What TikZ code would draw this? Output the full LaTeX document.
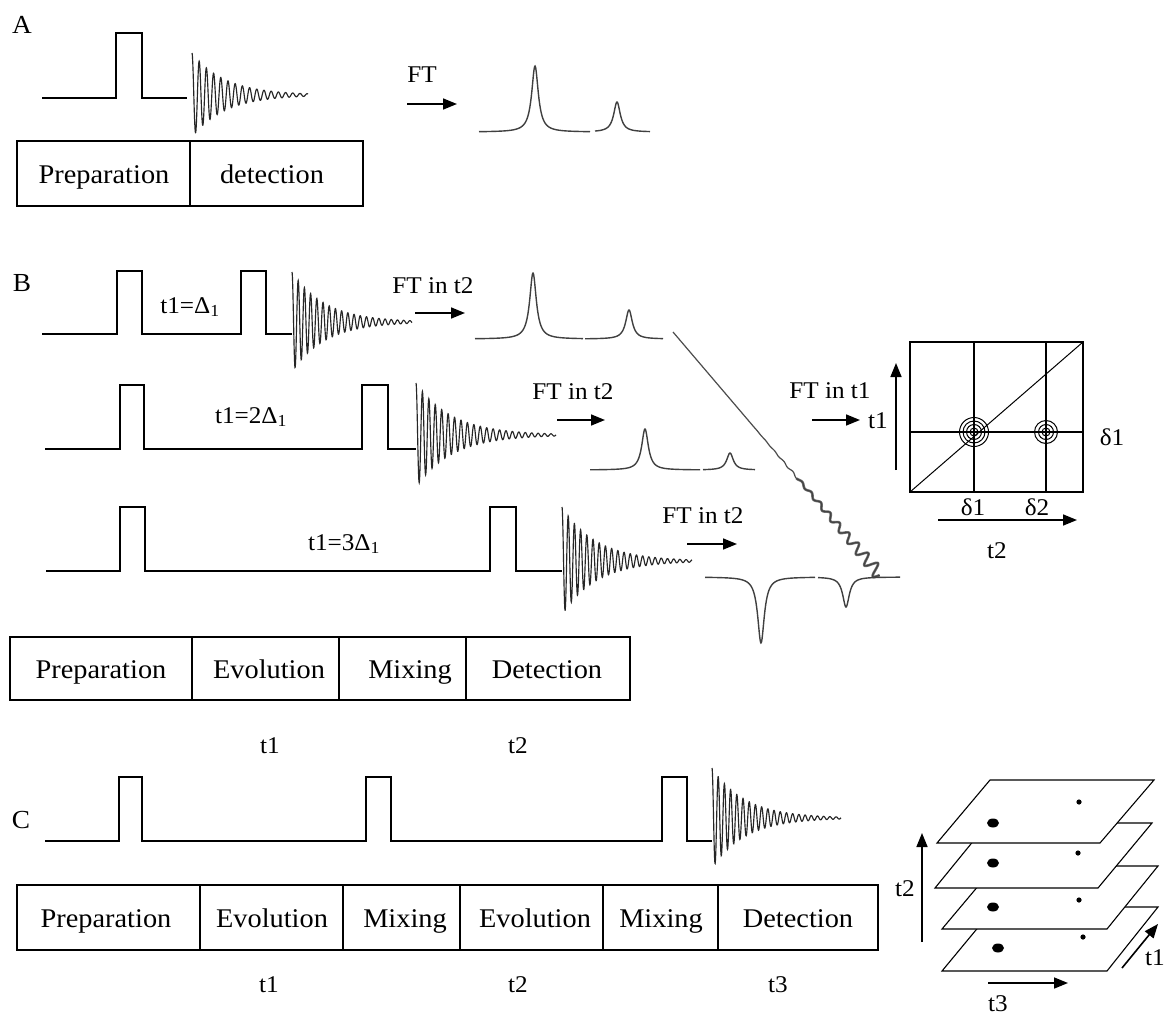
\documentclass[tikz,border=0pt]{standalone}
\usepackage{fontspec}
\setmainfont[FakeStretch=1.05]{Liberation Serif}
\usetikzlibrary{arrows.meta}
\begin{document}
\begin{tikzpicture}[x=1pt,y=-1pt,
 lbl/.style={inner sep=0pt, font=\fontsize{24}{26}\selectfont, text height=16pt, text depth=0pt},
 boxtxt/.style={inner sep=0pt, font=\fontsize{27}{29}\selectfont, text height=18pt, text depth=0pt},
 letter/.style={inner sep=0pt, font=\fontsize{26}{28}\selectfont, text height=17pt, text depth=0pt},
 seq/.style={line width=1.4pt, line join=miter},
 fid/.style={line width=1.15pt, black!85},
 spec/.style={line width=1.4pt, black!75},
 frame/.style={line width=1.4pt},
 arr/.style={line width=1.6pt, -{Triangle[length=14pt,width=11pt]}},
 plane/.style={fill=white, draw=black, line width=1.1pt, line join=miter},
 wavy/.style={line width=1.2pt, black!70}
]
\useasboundingbox[fill=white] (0,0) rectangle (1168,1017);

% ---------------- A ----------------
\node[letter] (lA) at (22,25) {A};
\draw[seq] (42,98) -- (116,98) -- (116,33) -- (142,33) -- (142,98) -- (187,98);
\draw[fid] plot[domain=0:116,samples=600] ({192+\x},{95-42*exp(-\x/33)*cos(50*\x)});
\draw[frame] (17,141) rectangle (363,206);
\draw[frame] (190,141) -- (190,206);
\node[boxtxt] (aPrep) at (104,174) {Preparation};
\node[boxtxt] (aDet) at (272,174) {detection};
\node[lbl] (aFT) at (422,74) {FT};
\coordinate (aA1) at (407,104); \coordinate (aA2) at (457,104);
\draw[arr] (aA1) -- (aA2);
\draw[spec] plot[domain=479:590,samples=300] (\x,{132-66*16/((\x-535)*(\x-535)+16)});
\draw[spec] plot[domain=595:650,samples=200] (\x,{132-30*16/((\x-617)*(\x-617)+16)});

% ---------------- B ----------------
\node[letter] (lB) at (22,283) {B};
% row 1
\draw[seq] (42,334) -- (117,334) -- (117,271) -- (142,271) -- (142,334) -- (241,334) -- (241,271) -- (266,271) -- (266,334) -- (292,334);
\draw[fid] plot[domain=0:120,samples=600] ({292+\x},{322-50*exp(-\x/33)*cos(58*\x)});
\node[lbl] (t1a) at (190,305) {t1=Δ\textsubscript{1}};
\node[lbl] (ft1) at (433,285) {FT in t2};
\coordinate (b1A1) at (415,313); \coordinate (b1A2) at (465,313);
\draw[arr] (b1A1) -- (b1A2);
\draw[spec] plot[domain=475:583,samples=300] (\x,{339-66*16/((\x-533)*(\x-533)+16)});
\draw[spec] plot[domain=585:663,samples=250] (\x,{339-29*16/((\x-629)*(\x-629)+16)});
% row 2
\draw[seq] (45,449) -- (120,449) -- (120,385) -- (144,385) -- (144,449) -- (362,449) -- (362,385) -- (388,385) -- (388,449) -- (416,449);
\draw[fid] plot[domain=0:140,samples=700] ({416+\x},{435-52*exp(-\x/36)*cos(56*\x)});
\node[lbl] (t1b) at (251,415) {t1=2Δ\textsubscript{1}};
\node[lbl] (ft2) at (573,391) {FT in t2};
\coordinate (b2A1) at (557,420); \coordinate (b2A2) at (605,420);
\draw[arr] (b2A1) -- (b2A2);
\draw[spec] plot[domain=590:700,samples=300] (\x,{470-41*16/((\x-645)*(\x-645)+16)});
\draw[spec] plot[domain=703:755,samples=200] (\x,{470-17*16/((\x-730)*(\x-730)+16)});
% row 3
\draw[seq] (46,571) -- (120,571) -- (120,507) -- (145,507) -- (145,571) -- (490,571) -- (490,507) -- (516,507) -- (516,571) -- (562,571);
\draw[fid] plot[domain=0:130,samples=700] ({562+\x},{561-54*exp(-\x/34)*cos(58*\x)});
\node[lbl] (t1c) at (344,542) {t1=3Δ\textsubscript{1}};
\node[lbl] (ft3) at (703,515) {FT in t2};
\coordinate (b3A1) at (687,544); \coordinate (b3A2) at (737,544);
\draw[arr] (b3A1) -- (b3A2);
\draw[spec] plot[domain=705:815,samples=300] (\x,{577+66*16/((\x-761)*(\x-761)+16)});
\draw[spec] plot[domain=818:900,samples=250] (\x,{577+30*16/((\x-846)*(\x-846)+16)});
% diagonal wavy trace
\draw[wavy] plot[domain=0:1,samples=600] ({673+207*\x+0.762*16*(max(0,\x-0.35))^2*sin(8280*\x)},{332+243*\x-0.649*16*(max(0,\x-0.35))^2*sin(8280*\x)});
\draw[line width=2.6pt, black!75, opacity=0.75] plot[domain=0.6:1,samples=300] ({673+207*\x+0.762*16*(max(0,\x-0.35))^2*sin(8280*\x)},{332+243*\x-0.649*16*(max(0,\x-0.35))^2*sin(8280*\x)});
% box B
\draw[frame] (10,637) rectangle (630,700);
\draw[frame] (192,637) -- (192,700);
\draw[frame] (339,637) -- (339,700);
\draw[frame] (466,637) -- (466,700);
\node[boxtxt] (bPrep) at (101,669) {Preparation};
\node[boxtxt] (bEvo) at (269,669) {Evolution};
\node[boxtxt] (bMix) at (410,669) {Mixing};
\node[boxtxt] (bDet) at (547,669) {Detection};
\node[lbl] (bt1) at (270,745) {t1};
\node[lbl] (bt2) at (518,745) {t2};
% FT in t1 and 2D plot
\node[lbl] (ftt1) at (830,390) {FT in t1};
\coordinate (c1) at (812,420); \coordinate (c2) at (860,420);
\draw[arr] (c1) -- (c2);
\node[lbl] (axt1) at (878,420) {t1};
\coordinate (v1) at (896,470); \coordinate (v2) at (896,363);
\draw[arr] (v1) -- (v2);
\draw[frame] (910,342) rectangle (1083,492);
\draw[frame] (974,342) -- (974,492);
\draw[frame] (1046,342) -- (1046,492);
\draw[frame] (910,432) -- (1083,432);
\draw[line width=1pt] (910,492) -- (1083,342);
\foreach \r in {4,7.5,11,14.5} \draw[line width=1pt] (974,432) circle[radius=\r];
\foreach \r in {4,7.5,11.5} \draw[line width=1pt] (1046,432) circle[radius=\r];
\node[lbl] (dr) at (1112,437) {δ1};
\node[lbl] (d1) at (973,507) {δ1};
\node[lbl] (d2) at (1037,507) {δ2};
\coordinate (h1) at (938,520); \coordinate (h2) at (1077,520);
\draw[arr] (h1) -- (h2);
\node[lbl] (axt2) at (997,550) {t2};

% ---------------- C ----------------
\node[letter] (lC) at (21,820) {C};
\draw[seq] (45,841) -- (119,841) -- (119,777) -- (142,777) -- (142,841) -- (366,841) -- (366,777) -- (391,777) -- (391,841) -- (662,841) -- (662,777) -- (687,777) -- (687,841) -- (712,841);
\draw[fid] plot[domain=0:129,samples=700] ({712+\x},{818-50*exp(-\x/33)*cos(58*\x)});
\draw[frame] (17,885) rectangle (878,950);
\foreach \xx in {200,343,460,603,718} \draw[frame] (\xx,885) -- (\xx,950);
\node[boxtxt] (cPrep) at (106,918) {Preparation};
\node[boxtxt] (cEvo1) at (272,918) {Evolution};
\node[boxtxt] (cMix1) at (405,918) {Mixing};
\node[boxtxt] (cEvo2) at (535,918) {Evolution};
\node[boxtxt] (cMix2) at (661,918) {Mixing};
\node[boxtxt] (cDet) at (798,918) {Detection};
\node[lbl] (ct1) at (269,984) {t1};
\node[lbl] (ct2) at (518,984) {t2};
\node[lbl] (ct3) at (778,984) {t3};

% stacked planes
\filldraw[plane] (942,971) -- (1107,971) -- (1158,907) -- (995,907) -- cycle;
\fill (998,948) ellipse[x radius=6, y radius=4.5];
\fill (1083,937) circle[radius=2.6];
\filldraw[plane] (942,929) -- (1107,929) -- (1158,866) -- (995,866) -- cycle;
\fill (993,907) ellipse[x radius=6, y radius=4.5];
\fill (1079,900) circle[radius=2.6];
\filldraw[plane] (935,888) -- (1098,888) -- (1152,823) -- (988,823) -- cycle;
\fill (993,863) ellipse[x radius=6, y radius=4.5];
\fill (1078,853) circle[radius=2.6];
\filldraw[plane] (937,843) -- (1100,843) -- (1154,780) -- (990,780) -- cycle;
\fill (993,823) ellipse[x radius=6, y radius=4.5];
\fill (1079,802) circle[radius=2.6];
\coordinate (p1) at (922,942); \coordinate (p2) at (922,833);
\draw[arr] (p1) -- (p2);
\node[lbl] (pt2) at (905,888) {t2};
\coordinate (q1) at (988,983); \coordinate (q2) at (1068,983);
\draw[arr] (q1) -- (q2);
\node[lbl] (pt3) at (998,1003) {t3};
\coordinate (r1) at (1122,968); \coordinate (r2) at (1158,924);
\draw[arr] (r1) -- (r2);
\node[lbl] (pt1) at (1155,957) {t1};
\end{tikzpicture}
\end{document}
